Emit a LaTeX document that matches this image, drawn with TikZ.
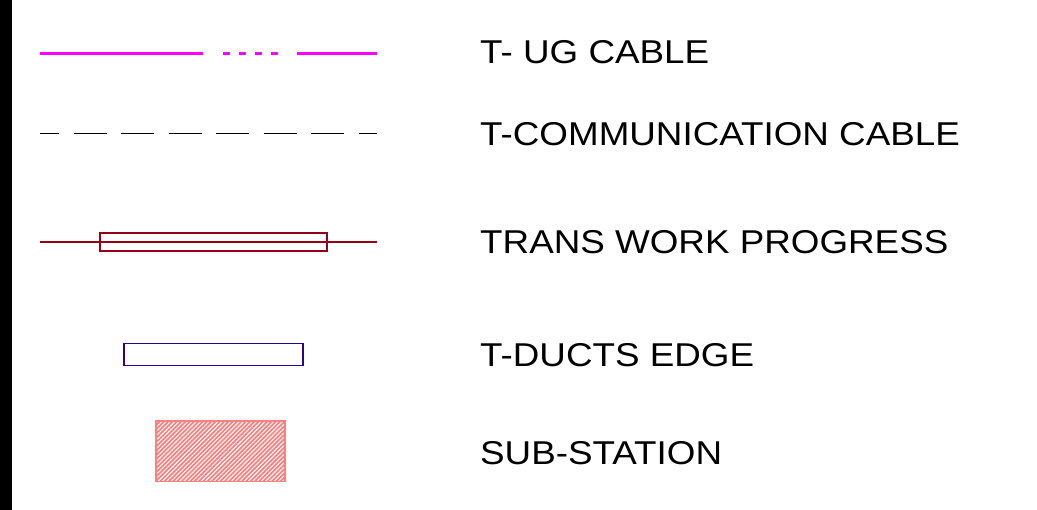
\documentclass[tikz,border=0pt]{standalone}
\usepackage{fontspec}
\setmainfont{Liberation Sans}
\definecolor{ugmag}{RGB}{255,0,255}
\definecolor{transred}{RGB}{150,0,20}
\definecolor{ductpur}{RGB}{48,0,140}
\definecolor{subsal}{RGB}{255,128,128}
\newcommand{\lbltext}[1]{\scalebox{1.115}[1]{#1}}
\begin{document}
\begin{tikzpicture}[x=1pt,y=-1pt,
  lbl/.style={anchor=base west,inner sep=0pt,font=\fontsize{33}{40}\selectfont},
  ugline/.style={ugmag,line width=2.2pt},
  commline/.style={black,line width=1.6pt,dash pattern=on 33pt off 14.5pt,dash phase=14pt},
  transline/.style={transred,line width=1.7pt},
  ductbox/.style={ductpur,line width=1.7pt},
  subbox/.style={subsal,line width=1.6pt}]
\useasboundingbox (0,0) rectangle (1037,510);
\fill[black] (0,0) rectangle (12,510);
% row 1
\coordinate (u1) at (40,53.5);
\coordinate (u2) at (203,53.5);
\coordinate (u3) at (297,53.5);
\coordinate (u4) at (377,53.5);
\draw[ugline] (u1) -- (u2);
\foreach \x in {223,239,255,271}{\draw[ugline] (\x,53.5) -- (\x+7,53.5);}
\draw[ugline] (u3) -- (u4);
\node[lbl] (t1) at (480,64) {\lbltext{T- UG CABLE}};
% row 2
\coordinate (c1) at (40,133.5);
\coordinate (c2) at (377,133.5);
\draw[commline] (c1) -- (c2);
\node[lbl] (t2) at (480,145.5) {\lbltext{T-COMMUNICATION CABLE}};
% row 3
\coordinate (r1) at (40,242.3);
\coordinate (r2) at (377,242.3);
\draw[transline] (r1) -- (r2);
\draw[transline] (100,232.7) rectangle (327,251.3);
\node[lbl] (t3) at (480,254) {\lbltext{TRANS WORK PROGRESS}};
% row 4
\draw[ductbox] (124,343.5) rectangle (303,365.5);
\node[lbl] (t4) at (480,367) {\lbltext{T-DUCTS EDGE}};
% row 5
\begin{scope}
\clip (156,421) rectangle (285,481.5);
\foreach \i in {0,...,45}{\draw[subsal,line width=1.7pt] (156+\i*4.3-60.5,481.5) -- (156+\i*4.3,421);}
\end{scope}
\draw[subbox] (156,421) rectangle (285,481.5);
\node[lbl] (t5) at (480,465) {\lbltext{SUB-STATION}};
\end{tikzpicture}
\end{document}
